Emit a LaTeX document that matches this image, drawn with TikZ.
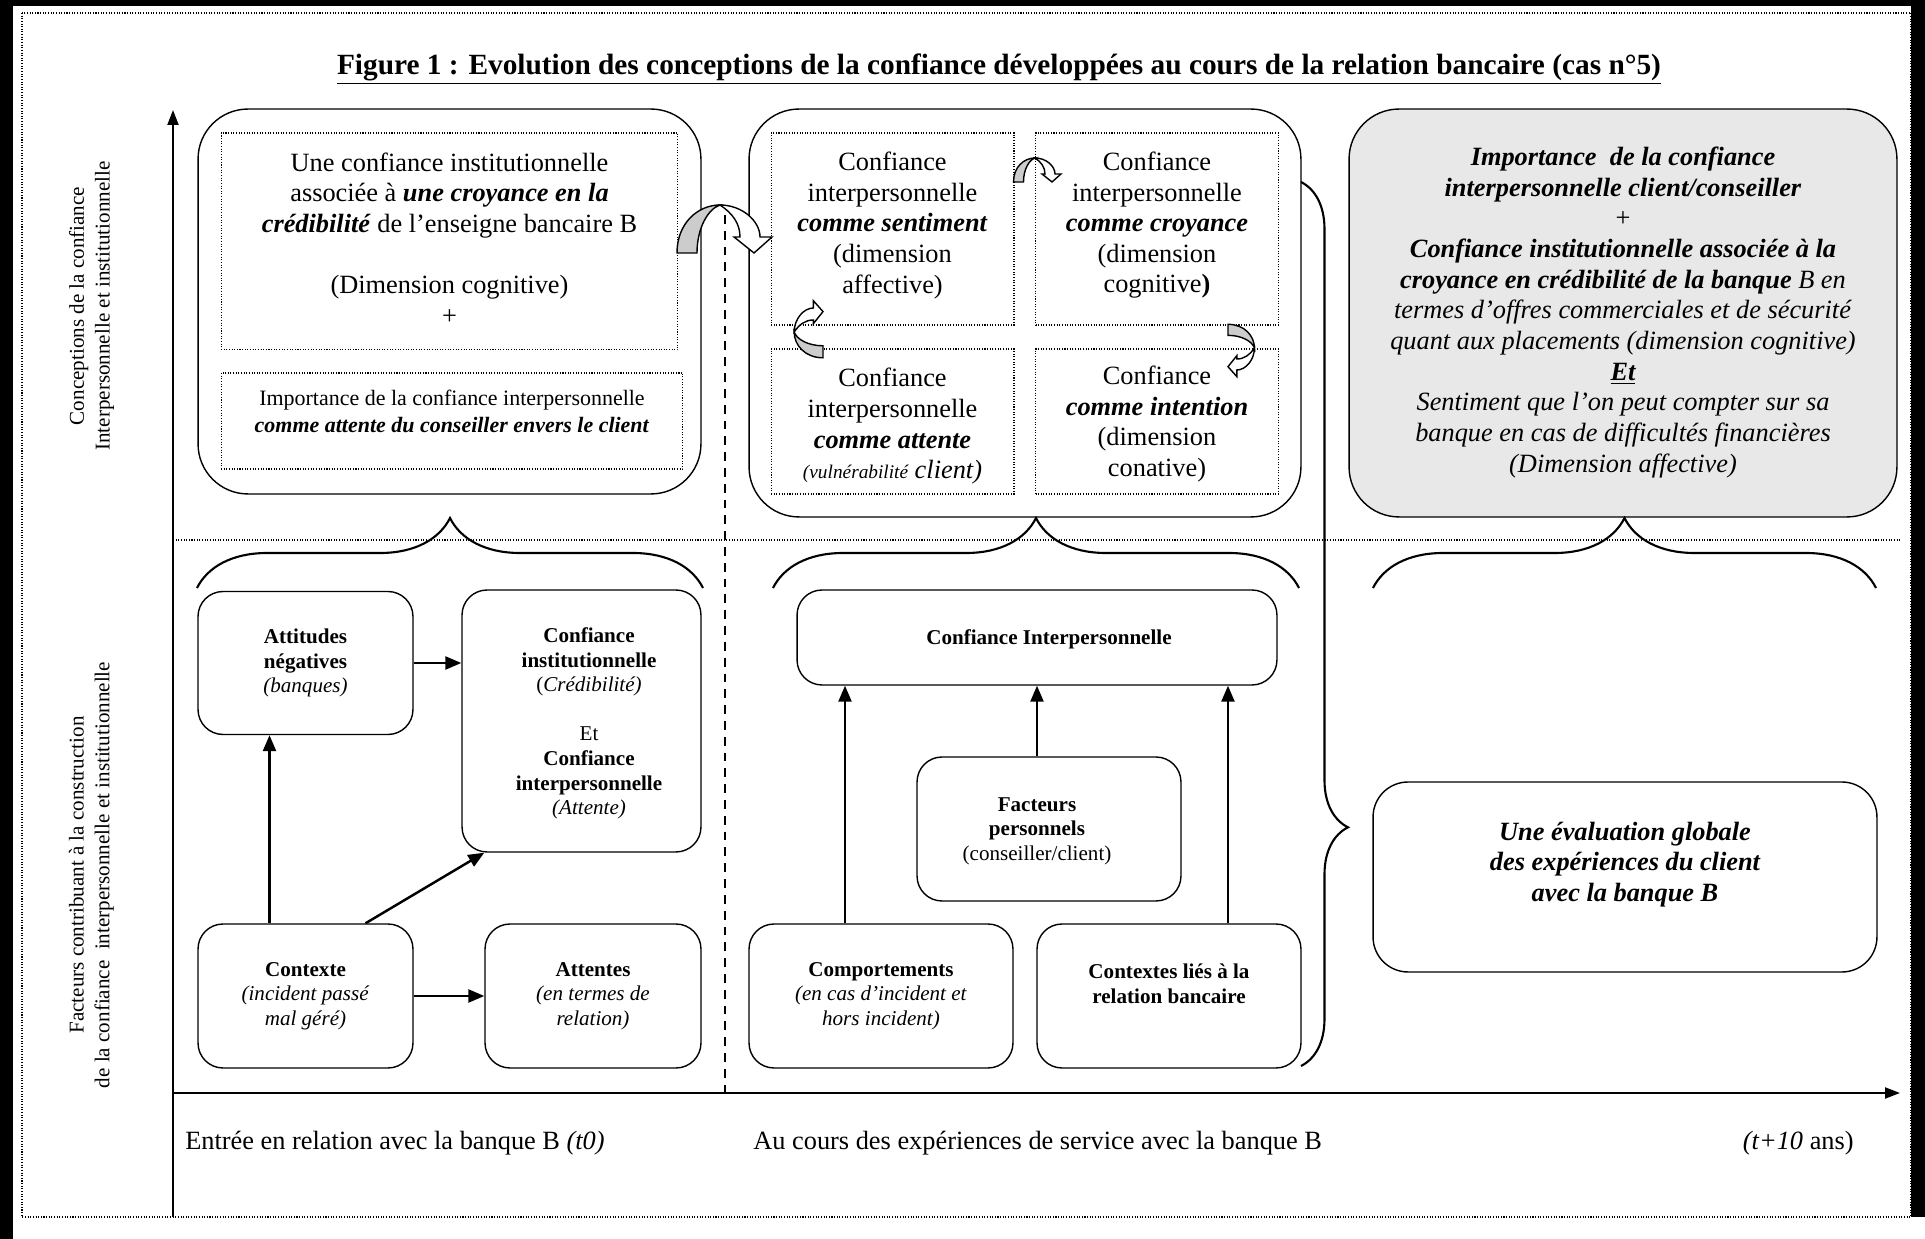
\documentclass[tikz,border=0pt]{standalone}
\usepackage{fontspec}
\setmainfont{Liberation Serif}
\usetikzlibrary{arrows.meta,decorations.pathreplacing}

\newcommand{\bi}[1]{\textbf{\textit{#1}}}
\newcommand{\bigtxt}{\fontsize{15}{17.45}\selectfont}
\newcommand{\smalltxt}{\fontsize{12}{14}\selectfont}

\begin{document}
\begin{tikzpicture}[x=0.02cm,y=-0.02cm,
	grpbox/.style={draw,line width=0.8pt,rounded corners=1cm,inner sep=0pt},
	dotbox/.style={draw,line width=0.6pt,dash pattern=on 0.6pt off 0.9pt,inner sep=0pt},
	factbox/.style={draw,line width=0.8pt,rounded corners=0.5cm,align=center,inner sep=0pt,font=\smalltxt},
	txt/.style={align=center,inner sep=0pt},
	link/.style={line width=1.4pt,-{Triangle[length=0.32cm,width=0.26cm]}},
	axis/.style={line width=1.2pt,-{Triangle[length=0.3cm,width=0.22cm]}},
	brc/.style={decorate,line width=1.2pt,decoration={brace,amplitude=1.4cm}},
	curvearrow/.pic={
		\draw[line width=0.8pt,fill=black!20] (-43,0) .. controls (-43,-30) and (-22,-48) .. (0,-48) .. controls (-12,-44) and (-23,-25) .. (-23,0) -- cycle;
		\draw[line width=0.8pt,fill=white] (0,-48) .. controls (22,-48) and (40,-32) .. (40,-16) -- (52,-16) -- (34,0) -- (14,-16) -- (20,-16) .. controls (20,-30) and (12,-40) .. (0,-48) -- cycle;
	}]
	\useasboundingbox (0,0) rectangle (1925,1239);
	\draw[line width=0.26cm] (6.5,0) -- (6.5,1239);
	\draw[line width=0.12cm] (0,3) -- (1925,3);
	\draw[line width=0.28cm] (1918,0) -- (1918,1217);
	\draw[dotbox] (22,13) rectangle (1911,1217);

	\node[txt,font=\fontsize{16.7}{20}\selectfont\bfseries] (title) at (999,69) {\underline{Figure 1 : Evolution des conceptions de la confiance développées au cours de la relation bancaire (cas n°5)}};

	\coordinate (origin) at (173,1093);
	\draw[axis] (173,1217) -- (173,110);
	\draw[axis] (origin) -- (1900,1093);
	\draw[dotbox] (173,540) -- (1900,540);

	\node[txt,rotate=90,font=\fontsize{12}{14.7}\selectfont] (concl) at (91.5,306) {Conceptions de la confiance\\Interpersonnelle et institutionnelle};
	\node[txt,rotate=90,font=\fontsize{12}{14.7}\selectfont] (factl) at (91.5,875) {Facteurs contribuant à la construction\\de la confiance\ \ interpersonnelle et institutionnelle};

	\node[grpbox,minimum width=10.06cm,minimum height=7.7cm] (grp1) at (449.5,301.5) {};
	\node[grpbox,minimum width=11.04cm,minimum height=8.16cm] (grp2) at (1025,313) {};
	\node[grpbox,fill=black!9,minimum width=10.96cm,minimum height=8.16cm] (grp3) at (1623,313) {};

	\node[dotbox,minimum width=9.14cm,minimum height=4.34cm] (inst) at (449.5,241.5) {};
	\node[txt,font=\bigtxt] (instt) at ([yshift=0.06cm]inst) {Une confiance institutionnelle\\associée à \bi{une croyance en la}\\\bi{crédibilité} de l’enseigne bancaire B\\[17.45pt](Dimension cognitive)\\+};
	\node[dotbox,minimum width=9.24cm,minimum height=1.92cm] (expc) at (452,421) {};
	\node[txt,font=\fontsize{12.5}{15.4}\selectfont] (expct) at ([yshift=0.2cm]expc) {Importance de la confiance interpersonnelle\\\bi{comme attente du conseiller envers le client}};

	\node[dotbox,minimum width=4.86cm,minimum height=3.84cm] (sent) at (892.5,229) {};
	\node[dotbox,minimum width=4.86cm,minimum height=3.84cm] (croy) at (1157,229) {};
	\node[dotbox,minimum width=4.86cm,minimum height=2.9cm] (atte) at (892.5,421.5) {};
	\node[dotbox,minimum width=4.86cm,minimum height=2.9cm] (intn) at (1157,421.5) {};
	\node[txt,font=\bigtxt] (sentt) at ([yshift=0.075cm]sent) {Confiance\\interpersonnelle\\\bi{comme sentiment}\\(dimension\\affective)};
	\node[txt,font=\bigtxt] (croyt) at ([yshift=0.075cm]croy) {Confiance\\interpersonnelle\\\bi{comme croyance}\\(dimension\\cognitive\textbf{)}};
	\node[txt,font=\bigtxt] (attet) at ([yshift=-0.1cm]atte) {Confiance\\interpersonnelle\\\bi{comme attente}\\{\fontsize{11}{13}\selectfont\itshape (vulnérabilité} \textit{client)}};
	\node[txt,font=\bigtxt] (intnt) at ([yshift=-0.05cm]intn) {Confiance\\\bi{comme intention}\\(dimension\\conative)};

	\node[txt,font=\bigtxt] (synth) at (1623,312.5) {\bi{Importance\ \ de la confiance}\\\bi{interpersonnelle client/conseiller}\\+\\\bi{Confiance institutionnelle associée à la}\\\bi{croyance en crédibilité de la banque} \textit{B en}\\\textit{termes d’offres commerciales et de sécurité}\\\textit{quant aux placements (dimension cognitive)}\\\bi{\underline{Et}}\\\textit{Sentiment que l’on peut compter sur sa}\\\textit{banque en cas de difficultés financières}\\\textit{(Dimension affective)}};

	\pic at (720,253) {curvearrow};
	\pic[scale=0.5] at (1035,182) {curvearrow};
	\pic[scale=0.6,rotate=90] at (823,332) {curvearrow};
	\pic[scale=0.55,rotate=-90] at (1228,348) {curvearrow};
	\draw[line width=0.9pt,dash pattern=on 5pt off 4pt] (725,215) -- (725,1093);

	\draw[brc] (197,588) -- (703,588);
	\draw[brc] (773,588) -- (1299,588);
	\draw[brc] (1373,588) -- (1876,588);
	\draw[brc,decoration={brace,amplitude=0.94cm,aspect=0.73}] (1301,182) -- (1301,1066);

	\node[factbox,minimum width=4.3cm,minimum height=2.86cm] (neg) at (305.5,663) {\textbf{Attitudes}\\\textbf{négatives}\\\textit{(banques)}};
	\node[factbox,minimum width=4.78cm,minimum height=5.24cm] (inst2) at (581.5,721) {};
	\node[txt,font=\smalltxt] (inst2t) at ([xshift=0.15cm,yshift=-0.05cm]inst2) {\textbf{Confiance}\\\textbf{institutionnelle}\\(\textit{Crédibilité)}\\[14pt]Et\\\textbf{Confiance}\\\textbf{interpersonnelle}\\\textit{(Attente)}};
	\node[factbox,minimum width=4.3cm,minimum height=2.88cm] (ctx) at (305.5,996) {\textbf{Contexte}\\\textit{(incident passé}\\\textit{mal géré)}};
	\node[factbox,minimum width=4.32cm,minimum height=2.88cm] (atn) at (593,996) {\textbf{Attentes}\\\textit{(en termes de}\\\textit{relation)}};

	\node[factbox,minimum width=9.6cm,minimum height=1.9cm] (cip) at (1037,637.5) {};
	\node[txt,font=\smalltxt\bfseries] (cipt) at ([xshift=0.24cm,yshift=-0.04cm]cip) {Confiance Interpersonnelle};
	\node[factbox,minimum width=5.28cm,minimum height=2.88cm] (fac) at (1049,829) {};
	\node[txt,font=\smalltxt] (fact) at ([xshift=-0.24cm,yshift=-0.04cm]fac) {\textbf{Facteurs}\\\textbf{personnels}\\(conseiller/client)};
	\node[factbox,minimum width=5.28cm,minimum height=2.88cm] (cmp) at (881,996) {\textbf{Comportements}\\\textit{(en cas d’incident et}\\\textit{hors incident)}};
	\node[factbox,minimum width=5.28cm,minimum height=2.88cm] (ctl) at (1169,996) {\textbf{Contextes liés à la}\\\textbf{relation bancaire}\\\mbox{}};

	\node[factbox,rounded corners=0.7cm,font=\bigtxt\bfseries\itshape,minimum width=10.08cm,minimum height=3.8cm] (eva) at (1625,877) {Une évaluation globale\\des expériences du client\\avec la banque B\\\mbox{}};

	\draw[link] (neg.east) -- (neg.east -| inst2.west);
	\draw[link] ([xshift=-0.72cm]ctx.north) -- ([xshift=-0.72cm]neg.south);
	\draw[link] ([xshift=1.2cm]ctx.north) -- ([xshift=0.46cm]inst2.south west);
	\draw[link] (ctx.east) -- (atn.west);
	\draw[link] ([xshift=-0.72cm]cmp.north) -- ([xshift=-0.72cm]cmp.north |- cip.south);
	\draw[link] (fac.north -| cip.south) -- (cip.south);
	\draw[link] ([xshift=1.18cm]ctl.north) -- ([xshift=1.18cm]ctl.north |- cip.south);

	\node[txt,font=\bigtxt,anchor=west] (t0) at (185,1143) {Entrée en relation avec la banque B \textit{(t0)}};
	\node[txt,font=\bigtxt,anchor=west] (during) at (753,1143) {Au cours des expériences de service avec la banque B};
	\node[txt,font=\bigtxt,anchor=east] (t10) at (1854,1143) {\textit{(t+10} ans)};
\end{tikzpicture}
\end{document}
